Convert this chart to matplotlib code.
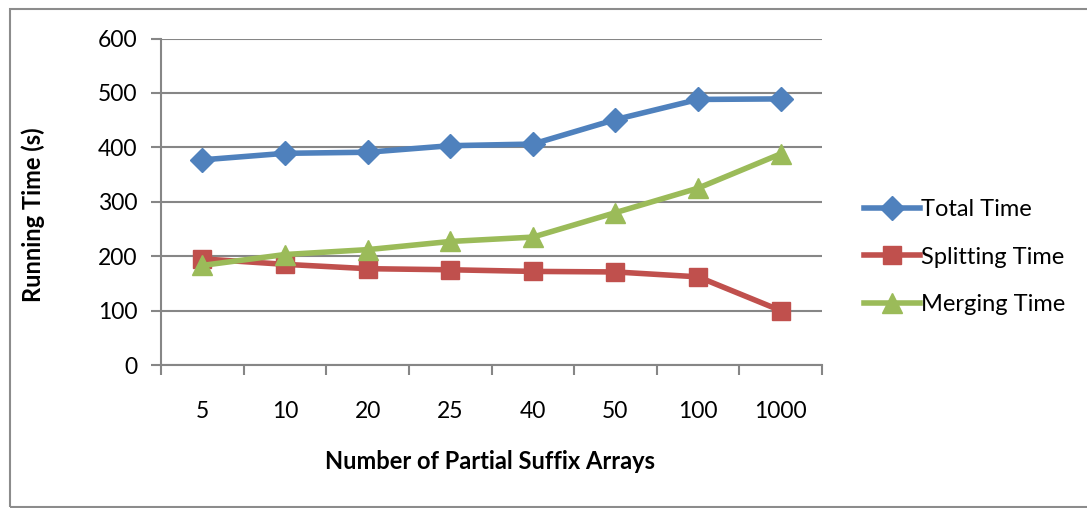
import matplotlib.pyplot as plt
import numpy as np
from matplotlib.patches import Rectangle

categories = ['5', '10', '20', '25', '40', '50', '100', '1000']
total_time = [377, 389, 391, 403, 406, 451, 488, 489]
splitting_time = [195, 185, 177, 175, 172, 171, 162, 100]
merging_time = [183, 203, 212, 227, 235, 280, 325, 388]

plt.rcParams['font.family'] = ['Lato', 'DejaVu Sans']

W, H = 1087, 508
fig = plt.figure(figsize=(W / 100, H / 100), dpi=100)

# chart border
fig.patches.append(Rectangle((10 / W, 1 / H), 1.2, (H - 10) / H, transform=fig.transFigure,
                             fill=False, edgecolor='#8c8c8c', linewidth=1.5))

ax = fig.add_axes([161 / W, 1 - 365 / H, (822 - 161) / W, (365 - 38.5) / H])
x = np.arange(len(categories))
grid_c = '#868686'

ax.plot(x, total_time, color='#4F81BD', lw=4, marker='D', ms=12, label='Total Time', zorder=3)
ax.plot(x, splitting_time, color='#C0504D', lw=4, marker='s', ms=13, label='Splitting Time', zorder=3)
ax.plot(x, merging_time, color='#9BBB59', lw=4, marker='^', ms=14, label='Merging Time', zorder=4)

ax.set_xlim(-0.5, len(categories) - 0.5)
ax.set_ylim(0, 600)
ax.set_yticks(range(0, 601, 100))
ax.yaxis.grid(True, color=grid_c, lw=1.5)
ax.set_axisbelow(True)

ax.set_xticks(np.arange(-0.5, len(categories), 1))
ax.set_xticklabels([])
ax.set_xticks(x, minor=True)
ax.set_xticklabels(categories, minor=True)
ax.tick_params(axis='x', which='major', length=7, width=1.5, color=grid_c)
ax.tick_params(axis='x', which='minor', length=0, pad=26, labelsize=16.5)
ax.tick_params(axis='y', length=7, width=1.5, color=grid_c, pad=10, labelsize=16.5)

for s in ['top', 'right']:
    ax.spines[s].set_visible(False)
for s in ['left', 'bottom']:
    ax.spines[s].set_color(grid_c)
    ax.spines[s].set_linewidth(1.5)

ax.set_ylabel('Running Time (s)', fontsize=17, fontweight='bold')
ax.yaxis.set_label_coords(-0.176, 0.46)
ax.set_xlabel('Number of Partial Suffix Arrays', fontsize=17, fontweight='bold')
ax.xaxis.set_label_coords(0.498, -0.26)

ax.legend(loc='center left', bbox_to_anchor=(1.045, 0.33), frameon=False, fontsize=17,
          handlelength=2.4, handletextpad=0.05, labelspacing=1.12, borderpad=0)

fig.savefig('out.png', dpi=100)
